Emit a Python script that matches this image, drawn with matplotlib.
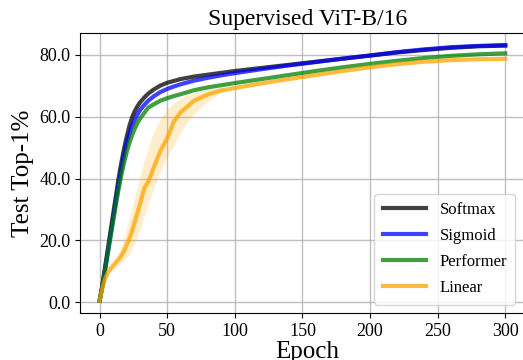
import matplotlib
matplotlib.use("Agg")
import matplotlib.pyplot as plt

plt.rcParams["font.family"] = ["Liberation Serif", "DejaVu Serif"]

# test accuracy (%) per epoch for each attention variant
epochs = [0, 2, 4, 6, 8, 10, 12, 14, 16, 18, 20, 22, 24, 26, 28, 30, 33, 36, 40,
          45, 50, 55, 60, 70, 80, 90, 100, 120, 140, 160, 180, 200, 220, 240,
          260, 280, 300]
softmax = [0.5, 5.5, 11.3, 17.0, 22.8, 28.5, 34.2, 40.0, 45.0, 49.5, 53.5, 57.0,
           59.8, 61.8, 63.4, 64.7, 66.2, 67.5, 68.8, 70.1, 71.0, 71.6, 72.2,
           73.0, 73.6, 74.2, 74.8, 75.8, 76.8, 77.8, 78.8, 79.8, 80.8, 81.6,
           82.3, 82.8, 83.0]
sigmoid = [0.5, 5.0, 10.5, 16.0, 21.5, 27.0, 32.5, 38.0, 43.0, 47.5, 51.5, 54.5,
           57.0, 59.0, 60.8, 62.2, 63.8, 65.2, 66.6, 68.0, 69.0, 69.8, 70.5,
           71.7, 72.6, 73.4, 74.1, 75.4, 76.6, 77.7, 78.8, 79.8, 80.9, 81.8,
           82.5, 82.9, 83.2]
performer = [0.5, 5.0, 10.3, 15.6, 21.0, 26.3, 31.5, 36.5, 41.0, 45.0, 48.5,
             51.5, 54.0, 56.2, 58.0, 59.5, 61.2, 63.0, 64.0, 65.2, 66.0, 66.7,
             67.3, 68.6, 69.5, 70.2, 70.9, 72.2, 73.5, 74.8, 76.0, 77.1, 78.1,
             79.0, 79.7, 80.2, 80.5]
linear = [0.5, 4.5, 7.5, 9.5, 10.8, 11.8, 12.8, 13.8, 15.0, 16.5, 18.5, 20.5,
          23.0, 26.0, 29.0, 32.0, 36.8, 39.0, 43.5, 49.0, 53.0, 58.5, 61.5,
          65.2, 67.2, 68.5, 69.3, 70.8, 72.2, 73.5, 74.8, 76.0, 77.0, 77.8,
          78.3, 78.6, 78.7]

# min/max over seeds for the linear run
band_epochs = [8, 10, 14, 18, 22, 26, 30, 35, 40, 45, 50, 55, 60, 65, 70, 75,
               80, 85, 90]
linear_lo = [10.0, 10.5, 12.0, 13.5, 15.5, 19.0, 24.0, 30.5, 37.0, 42.5, 47.0,
             51.0, 55.0, 58.5, 61.0, 63.0, 65.0, 66.5, 68.0]
linear_hi = [11.5, 13.0, 16.0, 20.5, 27.0, 34.0, 41.0, 49.0, 55.0, 59.5, 62.5,
             64.5, 66.0, 67.2, 67.8, 68.3, 68.8, 69.2, 69.5]

series = [("Softmax", softmax, "black"), ("Sigmoid", sigmoid, "blue"),
          ("Performer", performer, "green"), ("Linear", linear, "orange")]

fig = plt.figure(figsize=(5.23, 3.6), dpi=100)
# axes run a little past the right edge, so the right spine is clipped
ax = fig.add_axes([0.153, 0.1306, 0.87, 0.7778])

ax.fill_between(band_epochs, linear_lo, linear_hi, color="orange", alpha=0.2,
                linewidth=0)
for name, values, color in series:
    ax.plot(epochs, values, color=color, alpha=0.75, linewidth=3, label=name)

ax.set_xlim(-14.5, 322)
ax.set_ylim(-3.5, 87.1)
ax.set_xticks([0, 50, 100, 150, 200, 250, 300])
ax.set_yticks([0, 20, 40, 60, 80])
ax.set_yticklabels(["0.0", "20.0", "40.0", "60.0", "80.0"])
ax.tick_params(labelsize=13)
ax.grid(True, color="#b0b0b0", linewidth=1, alpha=0.8)
ax.set_axisbelow(True)

ax.set_title("Supervised ViT-B/16", fontsize=17)
ax.set_xlabel("Epoch", fontsize=18, labelpad=1)
ax.set_ylabel("Test Top-1%", fontsize=18)
ax.legend(loc="lower right", fontsize=12, handlelength=2.6, labelspacing=0.6,
          borderpad=0.5, bbox_to_anchor=(0.975, 0.0))

fig.savefig("out.png", dpi=100)
